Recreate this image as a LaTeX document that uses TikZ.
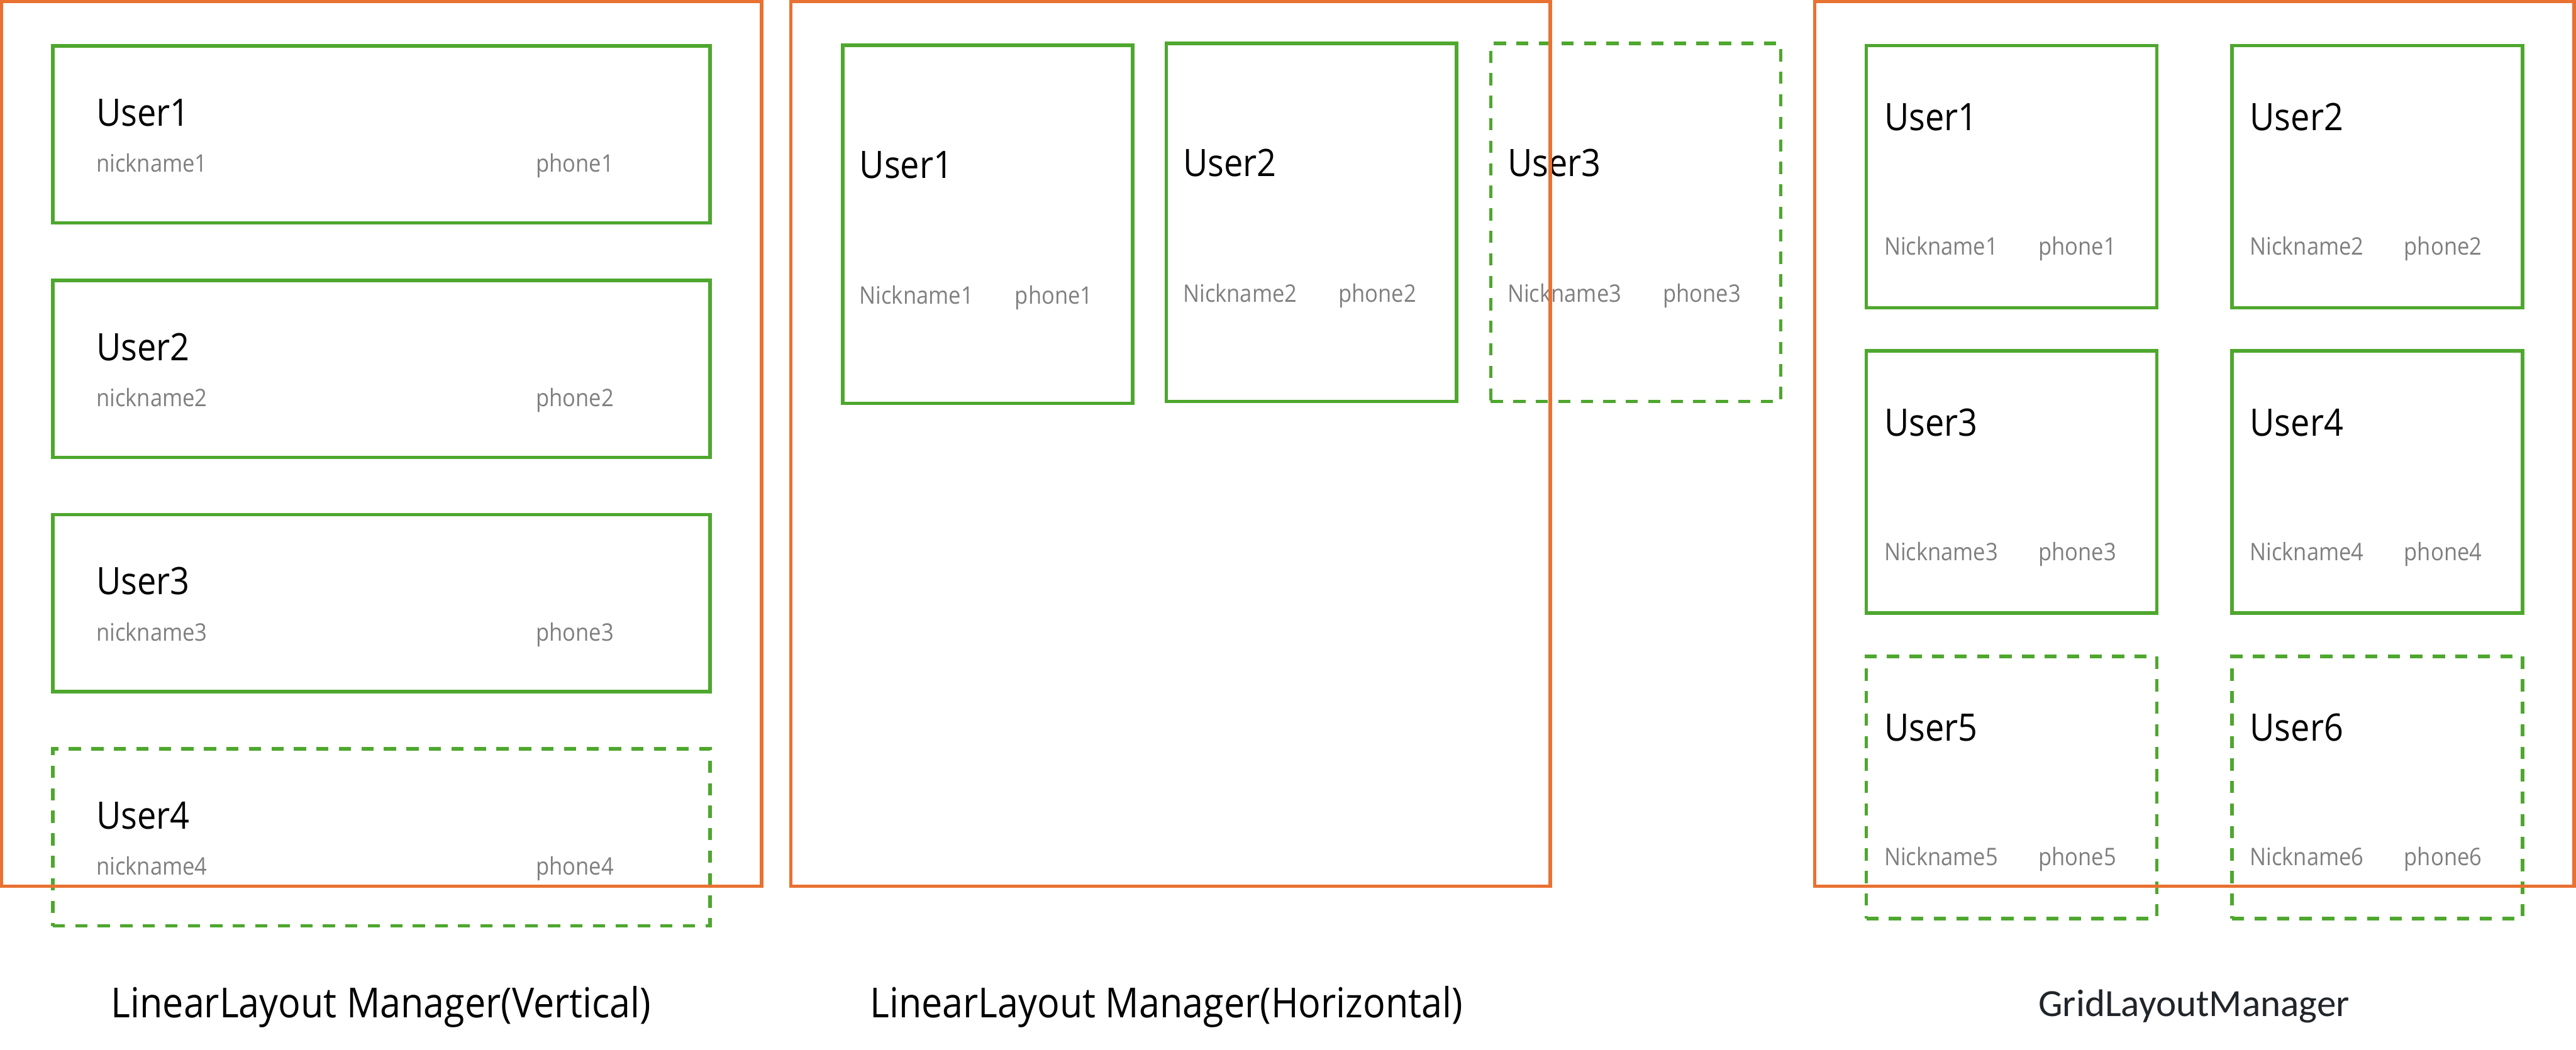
\documentclass[tikz,border=0pt]{standalone}
\usepackage{fontspec}
\setmainfont{Open Sans}[FakeStretch=0.9]
\newfontfamily\gridfont{Carlito}
\definecolor{orng}{HTML}{E97132}
\definecolor{grn}{HTML}{4EA72E}
\definecolor{txtgray}{HTML}{7F7F7F}
\definecolor{capdark}{HTML}{212529}
\tikzset{
  panel/.style={draw=orng, line width=2.1pt, inner sep=0, outer sep=0, anchor=north west},
  card/.style={draw=grn, line width=2.1pt, inner sep=0, outer sep=0, anchor=north west},
  ghost/.style={card, dash pattern=on 7.4pt off 6.3pt},
  uname/.style={anchor=base west, inner sep=0, font=\fontsize{23}{27}\selectfont},
  detail/.style={anchor=base west, inner sep=0, text=txtgray, font=\fontsize{14.7}{17}\selectfont},
  caption/.style={anchor=base, inner sep=0, font=\fontsize{25.2}{30}\selectfont}
}
\begin{document}
\begin{tikzpicture}[x=1pt, y=-1pt]
\useasboundingbox (0,0) rectangle (1568,639);
% ---------- Panel 1: vertical ----------
\foreach \i/\t/\s in {1/28/card, 2/170.7/card, 3/313.3/card, 4/456/ghost} {
  \node[\s, minimum width=400pt, minimum height=107.7pt] (v\i) at (32.1,\t) {};
  \node[uname] (vu\i) at (58.5,\t+48.7) {User\i};
  \node[detail] (vn\i) at (58.5,\t+76.8) {nickname\i};
  \node[detail] (vp\i) at (326,\t+76.8) {phone\i};
}
% ---------- Panel 2: horizontal ----------
\foreach \i/\l/\t/\s in {1/513/27.6/card, 2/710/26.5/card, 3/907.4/26.5/ghost} {
  \node[\s, minimum width=176.5pt, minimum height=218pt] (h\i) at (\l,\t) {};
  \node[uname] (hu\i) at (\l+10,\t+80.9) {User\i};
  \node[detail] (hn\i) at (\l+10,\t+157.4) {Nickname\i};
  \node[detail] (hp\i) at (\l+104.6,\t+157.4) {phone\i};
}
% ---------- Panel 3: grid ----------
\foreach \i/\l/\t/\s in {1/1136/27.8/card, 2/1358.6/27.8/card, 3/1136/213.7/card, 4/1358.6/213.7/card, 5/1136/399.6/ghost, 6/1358.6/399.6/ghost} {
  \node[\s, minimum width=176.8pt, minimum height=159.6pt] (g\i) at (\l,\t) {};
  \node[uname] (gu\i) at (\l+10.7,\t+51.6) {User\i};
  \node[detail] (gn\i) at (\l+10.7,\t+127.5) {Nickname\i};
  \node[detail] (gp\i) at (\l+104.6,\t+127.5) {phone\i};
}
% ---------- orange frames ----------
\node[panel, minimum width=462.5pt, minimum height=538.6pt] (pv) at (1,1) {};
\node[panel, minimum width=462.4pt, minimum height=538.6pt] (ph) at (481.3,1) {};
\node[panel, minimum width=462.3pt, minimum height=538.6pt] (pg) at (1104.5,1) {};
% ---------- captions ----------
\node[caption] (cv) at (232,619.6) {LinearLayout Manager(Vertical)};
\node[caption] (ch) at (710,619.6) {LinearLayout Manager(Horizontal)};
\node[anchor=base west, inner sep=0, text=capdark, font=\gridfont\fontsize{23.4}{28}\selectfont] (cg) at (1240.6,618.7) {GridLayoutManager};
\end{tikzpicture}
\end{document}
